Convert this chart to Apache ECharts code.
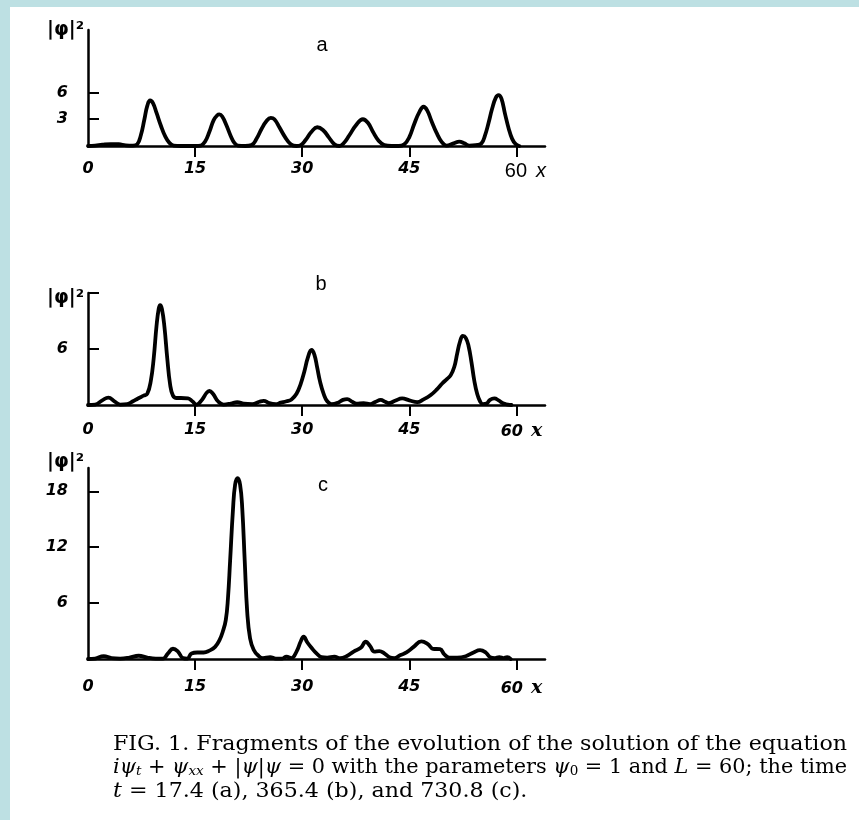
<!DOCTYPE html>
<html>
<head>
<meta charset="utf-8">
<script src="https://cdn.jsdelivr.net/npm/echarts@6/dist/echarts.min.js"></script>
<style>
html, body { margin: 0; padding: 0; background: #fff; }
#main { width: 859px; height: 820px; }
</style>
</head>
<body>
<div id="main"></div>
<script>
// |psi|^2 profiles, [x, |psi|^2]
var panelA = [
  [0, 0], [1, 0.05], [2, 0.15], [3.2, 0.22], [4.3, 0.2], [5.3, 0.08], [6.3, 0.05],
  [6.9, 0.2], [7.4, 1.2], [7.9, 3.0], [8.3, 4.5], [8.7, 5.1], [9.1, 4.8], [9.6, 3.7],
  [10.2, 2.3], [10.8, 1.1], [11.4, 0.35], [12, 0.05], [13, 0], [15, 0],
  [15.8, 0.05], [16.4, 0.5], [17.0, 1.6], [17.6, 2.9], [18.1, 3.45], [18.4, 3.55], [18.8, 3.3],
  [19.4, 2.3], [20.0, 1.1], [20.5, 0.35], [21.0, 0.05], [22, 0],
  [22.9, 0.1], [23.6, 0.8], [24.3, 1.9], [25, 2.8], [25.6, 3.15], [26.1, 3.0], [26.8, 2.1],
  [27.6, 1.0], [28.4, 0.2], [29.2, 0],
  [29.8, 0.1], [30.5, 0.7], [31.3, 1.6], [32.1, 2.1], [32.9, 1.8], [33.7, 1.0], [34.5, 0.2], [35.2, 0],
  [35.8, 0.3], [36.6, 1.2], [37.5, 2.3], [38.5, 3.0], [39.2, 2.6], [39.9, 1.6], [40.7, 0.6],
  [41.5, 0.1], [42.5, 0], [43.5, 0],
  [44.3, 0.2], [45, 1.0], [45.7, 2.5], [46.4, 3.8], [47, 4.4], [47.5, 4.0], [48.1, 2.8],
  [48.8, 1.5], [49.5, 0.5], [50.2, 0.05],
  [51.2, 0.3], [52, 0.5], [52.7, 0.3], [53.4, 0.05], [54.3, 0.1],
  [55.1, 0.3], [55.6, 1.2], [56.1, 2.6], [56.6, 4.2], [57.1, 5.4], [57.5, 5.7], [57.9, 5.3],
  [58.4, 3.6], [58.9, 2.0], [59.4, 0.8], [59.9, 0.2], [60.4, 0]
];
var panelB = [
  [0, 0], [1, 0.05], [2, 0.5], [2.85, 0.8], [3.7, 0.4], [4.5, 0.05], [5.5, 0.1], [6.3, 0.4],
  [7, 0.7], [7.8, 1.0], [8.3, 1.2], [8.8, 2.6], [9.2, 5.0], [9.6, 8.5], [9.9, 10.3], [10.1, 10.7],
  [10.35, 10.3], [10.7, 8.4], [11.1, 5.0], [11.5, 2.2], [11.9, 1.0], [12.4, 0.75], [13, 0.75],
  [14, 0.7], [14.6, 0.4], [15.2, 0.05],
  [16, 0.6], [16.6, 1.3], [17.0, 1.5], [17.5, 1.2], [18.2, 0.4], [19, 0.05], [20, 0.15],
  [20.9, 0.3], [21.8, 0.15], [23, 0.1], [24, 0.35], [24.6, 0.45], [25.4, 0.2], [26.3, 0.1],
  [27, 0.25], [27.8, 0.4], [28.5, 0.6], [29.2, 1.2], [29.8, 2.3], [30.3, 3.6], [30.8, 5.1],
  [31.3, 5.9], [31.7, 5.4], [32.1, 4.0], [32.5, 2.5], [33.0, 1.2], [33.5, 0.4], [34.1, 0.1],
  [35.0, 0.25], [35.7, 0.55], [36.3, 0.64], [37.0, 0.35], [37.6, 0.15], [38.6, 0.2], [39.5, 0.1],
  [40.3, 0.35], [41, 0.54], [41.6, 0.35], [42.1, 0.2], [43, 0.45], [44.0, 0.7], [45, 0.5],
  [46.1, 0.3], [47, 0.6], [48, 1.07], [48.9, 1.7], [49.6, 2.3], [50.3, 2.8], [50.8, 3.2],
  [51.3, 4.1], [51.7, 5.5], [52.1, 6.8], [52.5, 7.4], [52.9, 7.2], [53.3, 6.3], [53.7, 4.6],
  [54.1, 2.6], [54.5, 1.2], [54.9, 0.4], [55.3, 0.1], [55.8, 0.15], [56.3, 0.55], [56.9, 0.7],
  [57.5, 0.5], [58.2, 0.15], [58.8, 0.05], [59.3, 0]
];
var panelC = [
  [0, 0], [1, 0.05], [2.2, 0.3], [3.3, 0.1], [4.5, 0.05], [5.8, 0.15], [7.1, 0.35], [8.3, 0.15],
  [9.5, 0.05], [10.5, 0.05], [11.2, 0.6], [11.9, 1.1], [12.6, 0.8], [13.3, 0.1], [13.9, 0.05],
  [14.5, 0.6], [15.3, 0.7], [16.2, 0.7], [17.0, 0.9], [17.8, 1.3], [18.4, 2.0], [18.9, 3.0],
  [19.3, 4.2], [19.6, 6.5], [19.9, 10.5], [20.3, 16.0], [20.6, 18.7], [20.95, 19.4],
  [21.3, 18.7], [21.6, 16.2], [21.95, 10.5], [22.3, 5.0], [22.7, 2.2], [23.2, 1.0],
  [23.8, 0.4], [24.5, 0.1], [25.5, 0.2], [26.3, 0.05], [27.2, 0.05], [27.8, 0.25], [28.5, 0.1],
  [29.2, 0.8], [29.8, 1.9], [30.2, 2.4], [30.7, 1.8], [31.3, 1.2], [32, 0.6], [32.7, 0.2],
  [33.5, 0.15], [34.5, 0.25], [35.3, 0.1], [36.2, 0.3], [37.2, 0.8], [38.2, 1.2], [38.9, 1.85],
  [39.5, 1.4], [40.1, 0.8], [40.8, 0.85], [41.5, 0.6], [42.2, 0.2], [42.9, 0.1], [43.7, 0.4],
  [44.6, 0.7], [45.6, 1.3], [46.7, 1.9], [47.6, 1.6], [48.3, 1.1], [49.3, 1.05], [49.9, 0.5],
  [50.6, 0.15], [51.7, 0.15], [52.9, 0.3], [54, 0.7], [54.9, 0.95], [55.7, 0.7], [56.3, 0.2],
  [57, 0.1], [57.6, 0.2], [58.2, 0.1], [58.7, 0.2], [59.2, 0]
];

var xTickValues = [15, 30, 45, 60];
var xLabelValues = [0, 15, 30, 45, 60];
var yTicksA = [3, 6], yLabelsA = [3, 6];
var yTicksB = [6, 12], yLabelsB = [6];
var yTicksC = [6, 12, 18], yLabelsC = [6, 12, 18];
var yMaxA = 13, yMaxB = 12, yMaxC = 20.5;
var xMax = 64;
var panelNames = ['a', 'b', 'c'];
var captionLines = [
  'FIG. 1. Fragments of the evolution of the solution of the equation',
  '{i|iψ}{s|t} + {i|ψ}{s|xx} + |{i|ψ}|{i|ψ} = 0 with the parameters {i|ψ}{r|0} = 1 and {i|L} = 60; the time',
  '{i|t} = 17.4 (a), 365.4 (b), and 730.8 (c).'
];

var tickFont = 'DejaVu Sans';
var black = '#000';

function xAxisFor(idx, labelMargin, plainSixty) {
  return {
    type: 'value', gridIndex: idx, min: 0, max: xMax,
    axisLine: { show: true, onZero: false, lineStyle: { color: black, width: 2.5 } },
    axisTick: { show: true, inside: false, length: 11, customValues: xTickValues,
      lineStyle: { color: black, width: 2 } },
    splitLine: { show: false },
    axisLabel: {
      customValues: xLabelValues, margin: labelMargin,
      color: black, fontFamily: tickFont, fontStyle: 'italic', fontWeight: 'bold', fontSize: 16,
      formatter: function (v) {
        if (v === 60) return plainSixty ? '{n|60}{v|x}' : '{m|60}{w|x}';
        return String(v);
      },
      rich: {
        n: { fontFamily: 'Liberation Sans', fontStyle: 'normal', fontWeight: 'normal', fontSize: 20,
          color: black, padding: [0, 0, 0, 18] },
        v: { fontFamily: 'Liberation Sans', fontStyle: 'italic', fontWeight: 'normal', fontSize: 20,
          color: black, padding: [0, 0, 0, 9] },
        m: { fontFamily: tickFont, fontStyle: 'italic', fontWeight: 'bold', fontSize: 16,
          color: black, padding: [0, 0, 0, 10] },
        w: { fontFamily: 'DejaVu Serif', fontStyle: 'italic', fontWeight: 'bold', fontSize: 19,
          color: black, padding: [0, 0, 0, 8] }
      }
    }
  };
}

function yAxisFor(idx, max, ticks, labels) {
  return {
    type: 'value', gridIndex: idx, min: 0, max: max,
    axisLine: { show: true, onZero: false, lineStyle: { color: black, width: 2.5 } },
    axisTick: { show: true, inside: true, length: 11, customValues: ticks,
      lineStyle: { color: black, width: 2 } },
    splitLine: { show: false },
    axisLabel: {
      customValues: labels, margin: 20,
      color: black, fontFamily: tickFont, fontStyle: 'italic', fontWeight: 'bold', fontSize: 16
    }
  };
}

function curve(idx, data) {
  return {
    type: 'line', xAxisIndex: idx, yAxisIndex: idx, data: data,
    symbol: 'none', smooth: 0.45,
    lineStyle: { color: black, width: 3.8, join: 'round', cap: 'round' }, silent: true
  };
}

function psiLabel(x, y) {
  return {
    type: 'text', x: x, y: y,
    style: { text: '|φ|²', fill: black, font: 'bold 19px DejaVu Sans', align: 'right', verticalAlign: 'middle' }
  };
}

function panelLetter(name, x, y) {
  return {
    type: 'text', x: x, y: y,
    style: { text: name, fill: black, font: '20px Liberation Sans', align: 'center', verticalAlign: 'middle' }
  };
}

// caption: lines 1 and 2 are justified to the printed width
var capFont = 'DejaVu Serif';
var capSize = 20, subSize = 13;
var capLeft = 113, capRight = 847;
var capFonts = {
  base: capSize + 'px ' + capFont,
  i: 'italic ' + capSize + 'px ' + capFont,
  s: 'italic ' + subSize + 'px ' + capFont,
  r: subSize + 'px ' + capFont
};
var measure = document.createElement('canvas').getContext('2d');
function widthOf(str, font) {
  measure.font = font;
  return measure.measureText(str).width;
}
function richWidth(line) {
  var re = /\{(\w)\|([^}]*)\}/g, w = 0, last = 0, m;
  while ((m = re.exec(line))) {
    w += widthOf(line.slice(last, m.index), capFonts.base);
    w += widthOf(m[2], capFonts[m[1]]);
    last = re.lastIndex;
  }
  return w + widthOf(line.slice(last), capFonts.base);
}
var capWidth = capRight - capLeft;
var capScales = [
  capWidth / richWidth(captionLines[0]),
  capWidth / richWidth(captionLines[1])
];
capScales.push(capScales[0]);

var capRich = {
  i: { fontFamily: capFont, fontStyle: 'italic', fontSize: capSize, fill: black },
  s: { fontFamily: capFont, fontStyle: 'italic', fontSize: subSize, fill: black, verticalAlign: 'bottom' },
  r: { fontFamily: capFont, fontSize: subSize, fill: black, verticalAlign: 'bottom' }
};
function captionLine(k, y) {
  return {
    type: 'text', x: capLeft, y: y, scaleX: capScales[k],
    style: { text: captionLines[k], fill: black, font: capFonts.base, align: 'left', verticalAlign: 'middle', rich: capRich }
  };
}

var chart = echarts.init(document.getElementById('main'));
chart.setOption({
  animation: false,
  backgroundColor: '#fff',
  grid: [
    { left: 88, top: 30, width: 457, height: 116 },
    { left: 88, top: 293, width: 457, height: 112 },
    { left: 88, top: 468, width: 457, height: 191 }
  ],
  xAxis: [xAxisFor(0, 15, true), xAxisFor(1, 17, false), xAxisFor(2, 20, false)],
  yAxis: [yAxisFor(0, yMaxA, yTicksA, yLabelsA), yAxisFor(1, yMaxB, yTicksB, yLabelsB), yAxisFor(2, yMaxC, yTicksC, yLabelsC)],
  series: [curve(0, panelA), curve(1, panelB), curve(2, panelC)],
  graphic: [
    { type: 'rect', shape: { x: 0, y: 0, width: 859, height: 7 }, style: { fill: '#bde0e3' } },
    { type: 'rect', shape: { x: 0, y: 0, width: 10, height: 820 }, style: { fill: '#bde0e3' } },
    psiLabel(84, 30), psiLabel(84, 298), psiLabel(84, 462),
    panelLetter(panelNames[0], 322, 45), panelLetter(panelNames[1], 321, 284), panelLetter(panelNames[2], 323, 485),
    captionLine(0, 745),
    captionLine(1, 768),
    captionLine(2, 792)
  ]
});
</script>
</body>
</html>
